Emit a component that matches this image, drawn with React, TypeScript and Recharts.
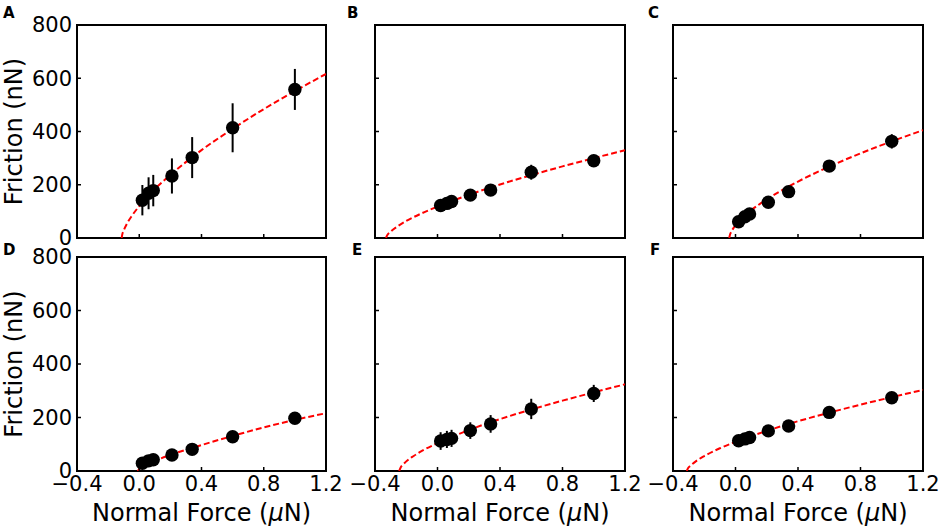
import React from 'react';
import {
	ComposedChart,
	ErrorBar,
	Line,
	ReferenceArea,
	Scatter,
	XAxis,
	YAxis,
} from 'recharts';

// normal force of the measured points (µN), same for every panel
const forceX = [0.02, 0.06, 0.09, 0.21, 0.34, 0.6, 1.0];

const frictionA = [142, 168, 178, 233, 302, 414, 558];
const errA = [57, 60, 59, 66, 77, 92, 77];
const frictionB = [122, 130, 137, 161, 180, 247, 290];
const errB = [12, 12, 12, 14, 15, 28, 15];
const frictionC = [61, 80, 90, 134, 174, 270, 363];
const errC = [10, 10, 10, 12, 12, 16, 27];
const frictionD = [29, 38, 42, 60, 81, 128, 197];
const errD = [6, 6, 6, 6, 6, 8, 8];
const frictionE = [112, 118, 122, 151, 176, 232, 290];
const errE = [33, 32, 32, 31, 33, 38, 32];
const frictionF = [113, 120, 125, 150, 168, 219, 274];
const errF = [8, 8, 8, 8, 8, 10, 10];

// dashed fit curves
const fitXA = [-0.113, -0.11, -0.1, -0.08, -0.05, 0, 0.1, 0.2, 0.4, 0.6, 0.8, 1.0, 1.2];
const fitYA = [0, 11, 28, 53, 81, 120, 184, 237, 330, 410, 484, 552, 616];
const fitXB = [-0.33, -0.32, -0.3, -0.25, -0.2, -0.1, 0, 0.2, 0.4, 0.6, 0.8, 1.0, 1.2];
const fitYB = [0, 12, 24, 46, 64, 93, 118, 162, 201, 236, 269, 300, 330];
const fitXC = [-0.04, -0.035, -0.03, -0.02, 0, 0.05, 0.1, 0.2, 0.4, 0.6, 0.8, 1.0, 1.2];
const fitYC = [0, 13, 20, 31, 47, 79, 104, 145, 212, 268, 318, 363, 405];
const fitXD = [-0.01, 0, 0.05, 0.1, 0.2, 0.4, 0.6, 0.8, 1.0, 1.2];
const fitYD = [0, 8, 25, 38, 60, 97, 131, 163, 191, 216];
const fitXE = [-0.245, -0.235, -0.22, -0.2, -0.15, -0.1, 0, 0.2, 0.4, 0.6, 0.8, 1.0, 1.2];
const fitYE = [0, 14, 24, 36, 57, 75, 104, 153, 194, 230, 263, 294, 324];
const fitXF = [-0.312, -0.302, -0.29, -0.25, -0.2, -0.1, 0, 0.2, 0.4, 0.6, 0.8, 1.0, 1.2];
const fitYF = [0, 12, 19, 38, 56, 85, 109, 150, 186, 218, 248, 276, 303];

const xTicks = [-0.4, 0, 0.4, 0.8, 1.2];
const yTicks = [0, 200, 400, 600, 800];

const FONT = 'DejaVu Sans';
const Y_AXIS_W = 77;
const TOP = 20;
const X_AXIS_H = 30;
const RIGHT = 20;

const fmtX = (v: number) => (v < 0 ? '\u2212' + Math.abs(v).toFixed(1) : v.toFixed(1));

const points = (ys: number[], es: number[]) =>
	forceX.map((x, i) => ({ x, y: ys[i], e: es[i] }));
const curve = (xs: number[], ys: number[]) => xs.map((x, i) => ({ x, y: ys[i] }));

type PanelProps = {
	left: number;
	top: number;
	w: number;
	h: number;
	pts: { x: number; y: number; e: number }[];
	fit: { x: number; y: number }[];
	showX: boolean;
	showY: boolean;
};

const Dot = (p: any) => <circle cx={p.cx} cy={p.cy} r={6.7} fill='#000' />;

const Panel = ({ left, top, w, h, pts, fit, showX, showY }: PanelProps) => {
	const tickStyle = { fill: '#000', fontSize: 21, fontFamily: FONT };
	return (
		<div style={{ position: 'absolute', left: left - Y_AXIS_W, top: top - TOP }}>
			<ComposedChart
				width={Y_AXIS_W + w + RIGHT}
				height={TOP + h + X_AXIS_H}
				margin={{ top: TOP, right: RIGHT, left: 0, bottom: 0 }}
			>
				<XAxis
					dataKey='x'
					type='number'
					domain={[-0.4, 1.2]}
					ticks={xTicks}
					allowDataOverflow
					axisLine={false}
					tickSize={-4}
					tickMargin={9}
					tickLine={{ stroke: '#000', strokeWidth: 1.5 }}
					tick={tickStyle}
					tickFormatter={showX ? fmtX : () => ''}
					height={X_AXIS_H}
					interval={0}
				/>
				<YAxis
					dataKey='y'
					type='number'
					domain={[0, 800]}
					ticks={yTicks}
					allowDataOverflow
					axisLine={false}
					tickSize={-4}
					tickMargin={9}
					tickLine={{ stroke: '#000', strokeWidth: 1.5 }}
					tick={tickStyle}
					tickFormatter={showY ? (v: number) => String(v) : () => ''}
					width={Y_AXIS_W}
					interval={0}
				/>
				<Scatter data={pts} dataKey='y' shape={Dot} isAnimationActive={false}>
					<ErrorBar dataKey='e' direction='y' width={0} stroke='#000' strokeWidth={2} />
				</Scatter>
				<Line
					data={fit}
					dataKey='y'
					type='monotone'
					dot={false}
					stroke='#ff0000'
					strokeWidth={2}
					strokeDasharray='6 3'
					isAnimationActive={false}
				/>
				<ReferenceArea
					x1={-0.4}
					x2={1.2}
					y1={0}
					y2={800}
					fill='none'
					stroke='#000'
					strokeWidth={2}
					ifOverflow='visible'
				/>
			</ComposedChart>
		</div>
	);
};

const cols = [
	{ left: 77, w: 249 },
	{ left: 375, w: 250 },
	{ left: 673, w: 250 },
];
const rows = [
	{ top: 25, h: 213 },
	{ top: 257, h: 214 },
];

const letters = [
	{ t: 'A', x: 3, y: 18 },
	{ t: 'B', x: 347, y: 18 },
	{ t: 'C', x: 648, y: 18 },
	{ t: 'D', x: 3, y: 255 },
	{ t: 'E', x: 352, y: 255 },
	{ t: 'F', x: 650, y: 255 },
];

export default function App() {
	const panels = [
		{ pts: points(frictionA, errA), fit: curve(fitXA, fitYA) },
		{ pts: points(frictionB, errB), fit: curve(fitXB, fitYB) },
		{ pts: points(frictionC, errC), fit: curve(fitXC, fitYC) },
		{ pts: points(frictionD, errD), fit: curve(fitXD, fitYD) },
		{ pts: points(frictionE, errE), fit: curve(fitXE, fitYE) },
		{ pts: points(frictionF, errF), fit: curve(fitXF, fitYF) },
	];

	return (
		<div
			style={{
				position: 'absolute',
				left: 0,
				top: 0,
				width: 941,
				height: 528,
				background: '#fff',
				overflow: 'hidden',
			}}
		>
			{panels.map((p, i) => {
				const c = cols[i % 3];
				const r = rows[Math.floor(i / 3)];
				return (
					<Panel
						key={i}
						left={c.left}
						top={r.top}
						w={c.w}
						h={r.h}
						pts={p.pts}
						fit={p.fit}
						showX={i >= 3}
						showY={i % 3 === 0}
					/>
				);
			})}
			<svg
				width={941}
				height={528}
				style={{ position: 'absolute', left: 0, top: 0, pointerEvents: 'none' }}
				fontFamily={FONT}
			>
				{letters.map((l) => (
					<text key={l.t} x={l.x} y={l.y} fontSize={15} fontWeight='bold' fill='#000'>
						{l.t}
					</text>
				))}
				{rows.map((r, i) => (
					<text
						key={'yl' + i}
						x={22}
						y={r.top + r.h / 2}
						fontSize={24}
						textAnchor='middle'
						fill='#000'
						transform={`rotate(-90 22 ${r.top + r.h / 2})`}
					>
						Friction (nN)
					</text>
				))}
				{cols.map((c, i) => (
					<text
						key={'xl' + i}
						x={c.left + c.w / 2}
						y={521}
						fontSize={24}
						textAnchor='middle'
						fill='#000'
					>
						Normal Force (<tspan fontStyle='italic'>μ</tspan>N)
					</text>
				))}
			</svg>
		</div>
	);
}
